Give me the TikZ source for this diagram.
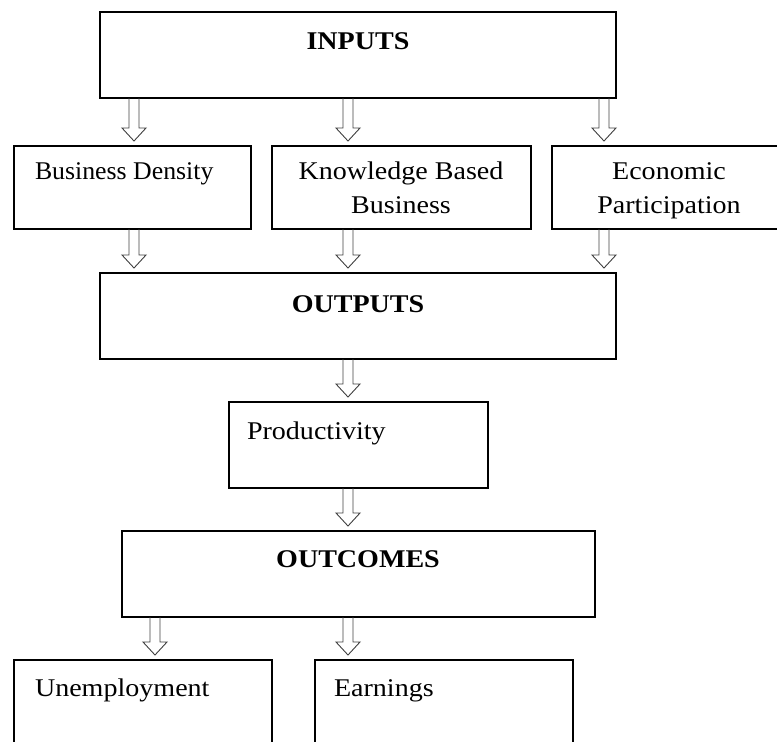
\documentclass[tikz,border=0pt]{standalone}
\usepackage{fontspec}
\setmainfont{Liberation Serif}[FakeStretch=1.1]
\usetikzlibrary{calc}
\begin{document}
\begin{tikzpicture}[x=1pt,y=-1pt,
  box/.style={draw=black, line width=1.8pt, rectangle, inner sep=0pt, outer sep=0pt, anchor=north west},
  txt/.style={inner sep=0pt, outer sep=0pt, font=\fontsize{25.5}{30}\selectfont},
  head/.style={txt, font=\fontsize{25.5}{30}\selectfont\bfseries},
  hollow/.style={draw=black!75, line width=0.9pt, line join=miter,
    to path={let \p1=(\tikztostart), \p2=(\tikztotarget) in
      (\x1-5pt,\y1) -- (\x1-5pt,\y2+18pt) -- (\x1-12pt,\y2+18pt) -- (\x1,\y2+5pt)
      -- (\x1+12pt,\y2+18pt) -- (\x1+5pt,\y2+18pt) -- (\x1+5pt,\y1)}}]
\useasboundingbox (0,0) rectangle (777,742);
\clip (0,0) rectangle (777,742);

% boxes
\node[box, minimum width=516, minimum height=86] (inputs) at (100,12) {};
\node[box, minimum width=237, minimum height=83] (bizd) at (14,146) {};
\node[box, minimum width=259, minimum height=83] (kbb) at (272,146) {};
\node[box, minimum width=238, minimum height=83] (econ) at (552,146) {};
\node[box, minimum width=516, minimum height=86] (outputs) at (100,273) {};
\node[box, minimum width=259, minimum height=86] (prod) at (229,402) {};
\node[box, minimum width=473, minimum height=86] (outcomes) at (122,531) {};
\node[box, minimum width=258, minimum height=100] (unemp) at (14,660) {};
\node[box, minimum width=258, minimum height=100] (earn) at (315,660) {};

% labels
\node[head, anchor=base] (tin) at (358,49) {INPUTS};
\node[txt, anchor=base west] (tbd) at (35,179) {\scalebox{0.92}[1]{Business Density}};
\node[txt, anchor=base] (tkb1) at (401,179) {Knowledge Based};
\node[txt, anchor=base] (tkb2) at (401,213) {Business};
\node[txt, anchor=base] (tec1) at (669,179) {Economic};
\node[txt, anchor=base] (tec2) at (669,213) {Participation};
\node[head, anchor=base] (tout) at (358,312) {OUTPUTS};
\node[txt, anchor=base west] (tpr) at (247,439) {Productivity};
\node[head, anchor=base] (toc) at (358,567) {OUTCOMES};
\node[txt, anchor=base west] (tun) at (35,696) {Unemployment};
\node[txt, anchor=base west] (tea) at (334,696) {Earnings};

% arrow columns
\coordinate (ca) at (134,0);
\coordinate (cb) at (348,0);
\coordinate (cc) at (604,0);
\coordinate (cd) at (155,0);

% connectors
\draw[hollow] (inputs.south -| ca) to (bizd.north -| ca);
\draw[hollow] (inputs.south -| cb) to (kbb.north -| cb);
\draw[hollow] (inputs.south -| cc) to (econ.north -| cc);
\draw[hollow] (bizd.south -| ca) to (outputs.north -| ca);
\draw[hollow] (kbb.south -| cb) to (outputs.north -| cb);
\draw[hollow] (econ.south -| cc) to (outputs.north -| cc);
\draw[hollow] (outputs.south -| cb) to (prod.north -| cb);
\draw[hollow] (prod.south -| cb) to (outcomes.north -| cb);
\draw[hollow] (outcomes.south -| cd) to (unemp.north -| cd);
\draw[hollow] (outcomes.south -| cb) to (earn.north -| cb);
\end{tikzpicture}
\end{document}
